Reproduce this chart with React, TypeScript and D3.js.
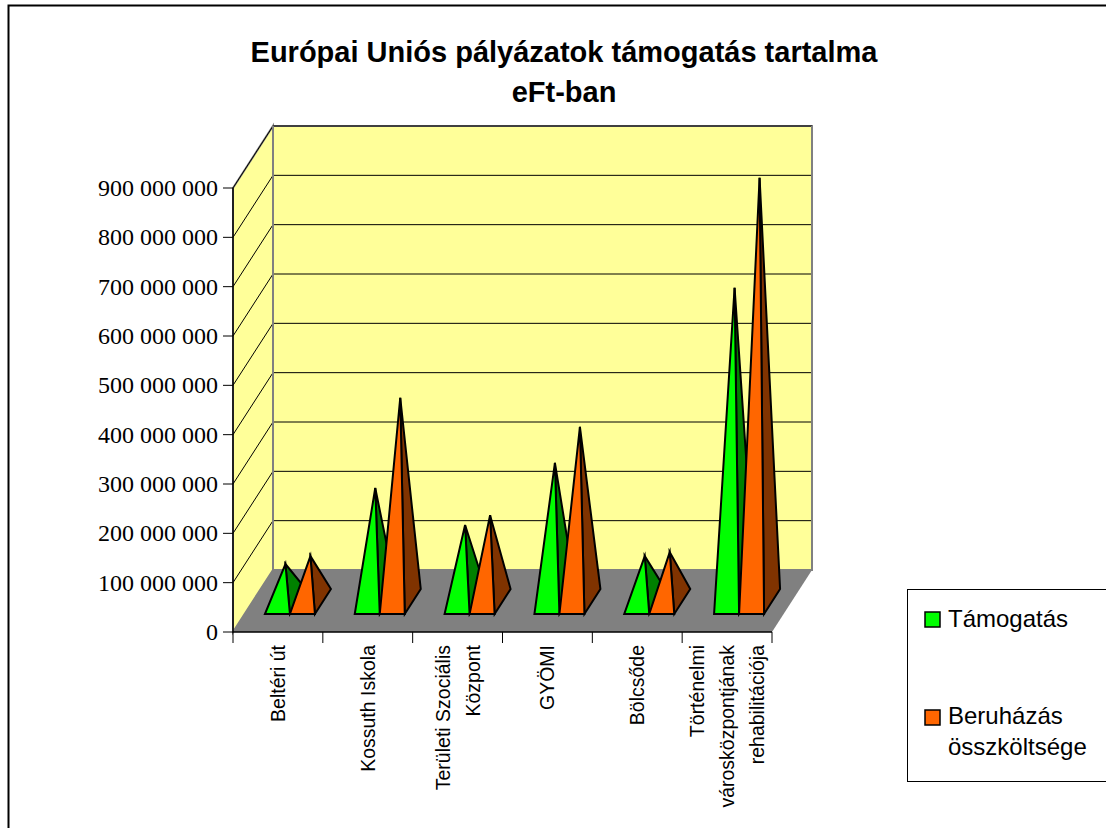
import React from "react";
import * as d3 from "d3";

const categories = ["Beltéri út", "Kossuth Iskola", "Területi Szociális|Központ", "GYÖMI", "Bölcsőde", "Történelmi|városközpontjának|rehabilitációja"];
const tamogatas = [76e6, 230e6, 155e6, 281e6, 92e6, 636e6];
const beruhazas = [92e6, 413e6, 175e6, 354e6, 100e6, 859e6];
const yTicks = [0, 1e8, 2e8, 3e8, 4e8, 5e8, 6e8, 7e8, 8e8, 9e8];
const titleLines = ["Európai Uniós pályázatok támogatás tartalma", "eFt-ban"];

const fmt = (v: number) => d3.format(",")(v).replace(/,/g, " ");

const W = 1106, H = 828;
const X0 = 233, X1 = 772, Y0 = 632, Y9 = 188;
const DX = 40, DY = 62;
const x = d3.scaleBand<number>().domain(d3.range(categories.length)).range([X0, X1]);
const y = d3.scaleLinear().domain([0, 9e8]).range([Y0, Y9]);
const h = (v: number) => Y0 - y(v);
const line = d3.line<[number, number]>();

const BASE_Y = 614, DEPTH_X = 16, DEPTH_Y = 25, BAR_W = 25, GAP_SHIFT = 12;

function Pyramid({ xl, value, front, side }: { xl: number; value: number; front: string; side: string }) {
  const xr = xl + BAR_W;
  const ax = xl + BAR_W / 2 + DEPTH_X / 2;
  const ay = BASE_Y - DEPTH_Y / 2 - h(value);
  const A: [number, number] = [ax, ay];
  const sideD = line([A, [xr, BASE_Y], [xr + DEPTH_X, BASE_Y - DEPTH_Y]]) + "Z";
  const frontD = line([A, [xl, BASE_Y], [xr, BASE_Y]]) + "Z";
  return (
    <g stroke="#000" strokeWidth={2} strokeLinejoin="miter" strokeMiterlimit={6}>
      <path d={sideD} fill={side} />
      <path d={frontD} fill={front} />
    </g>
  );
}

export default function App() {
  const sans = "'Liberation Sans', Arial, sans-serif";
  const serif = "'Liberation Serif', 'Times New Roman', serif";
  return (
    <svg width={W} height={H} style={{ position: "absolute", left: 0, top: 0 }}>
      <rect width={W} height={H} fill="#fff" />
      <path d={`M8.5,${H + 5}V5.5H${W + 5}`} fill="none" stroke="#000" strokeWidth={2} />
      {titleLines.map((t, i) => (
        <text key={t} x={564} y={62 + i * 40} textAnchor="middle" fontFamily={sans} fontWeight="bold" fontSize={29} fill="#000">{t}</text>
      ))}
      {/* walls */}
      <polygon points={`${X0},${Y0} ${X0},${Y9} ${X0 + DX},${Y9 - DY} ${X0 + DX},${Y0 - DY}`} fill="#FFFF99" stroke="#808080" strokeWidth={2} />
      <polygon points={`${X0 + DX},${Y9 - DY} ${X1 + DX},${Y9 - DY} ${X1 + DX},${Y0 - DY} ${X0 + DX},${Y0 - DY}`} fill="#FFFF99" stroke="#808080" strokeWidth={2} />
      <polygon points={`${X0},${Y0} ${X1},${Y0} ${X1 + DX},${Y0 - DY} ${X0 + DX},${Y0 - DY}`} fill="#808080" />
      {/* grid */}
      {yTicks.slice(1).map((t) => (
        <path key={t} d={`M${X0},${y(t)}L${X0 + DX},${y(t) - DY}H${X1 + DX}`} fill="none" stroke="#000" strokeWidth={1} />
      ))}
      <path d={`M${X0 + DX},${Y9 - DY}V${Y0 - DY}`} stroke="#808080" strokeWidth={2} />
      <path d={`M${X1 + DX},${Y9 - DY}V${Y0 - DY}`} stroke="#808080" strokeWidth={2} />
      {/* axes */}
      <path d={`M${X0},${Y9}V${Y0}H${X1}`} fill="none" stroke="#000" strokeWidth={1.5} />
      {yTicks.map((t) => (
        <g key={t}>
          <line x1={X0 - 10} x2={X0} y1={y(t)} y2={y(t)} stroke="#000" strokeWidth={1} />
          <text x={218} y={y(t) + 8} textAnchor="end" fontFamily={serif} fontSize={24} fill="#000">{fmt(t)}</text>
        </g>
      ))}
      {d3.range(categories.length + 1).map((i) => {
        const tx = X0 + i * x.step();
        return <line key={i} x1={tx} x2={tx} y1={Y0} y2={Y0 + 11} stroke="#000" strokeWidth={1} />;
      })}
      {/* pyramids */}
      {categories.map((c, i) => {
        const cx = x(i)! + x.bandwidth() / 2 + GAP_SHIFT;
        return (
          <g key={c}>
            <Pyramid xl={cx - BAR_W} value={tamogatas[i]} front="#00FF00" side="#008000" />
            <Pyramid xl={cx} value={beruhazas[i]} front="#FF6600" side="#803300" />
          </g>
        );
      })}
      {/* category labels */}
      {categories.map((c, i) => {
        const cx = x(i)! + x.bandwidth() / 2;
        const lines = c.split("|");
        const lh = 30;
        return (
          <g key={c} transform={`translate(${cx},645) rotate(-90)`}>
            {lines.map((l, j) => (
              <text key={l} x={lines.length === 3 ? -(j === 2 ? 0 : 0) : 0} textAnchor="end" dominantBaseline="central" y={(j - (lines.length - 1) / 2) * lh} fontFamily={sans} fontSize={19.5} fill="#000">{l}</text>
            ))}
          </g>
        );
      })}
      {/* legend */}
      <rect x={907.5} y={589.5} width={W} height={192} fill="#fff" stroke="#000" strokeWidth={1} />
      <rect x={925} y={612} width={15} height={15} fill="#00FF00" stroke="#000" strokeWidth={1.5} />
      <text x={948} y={627} fontFamily={sans} fontSize={24} fill="#000">Támogatás</text>
      <rect x={925} y={710} width={15} height={15} fill="#FF6600" stroke="#000" strokeWidth={1.5} />
      <text x={948} y={724} fontFamily={sans} fontSize={24} fill="#000">Beruházás</text>
      <text x={948} y={755} fontFamily={sans} fontSize={24} fill="#000">összköltsége</text>
    </svg>
  );
}
